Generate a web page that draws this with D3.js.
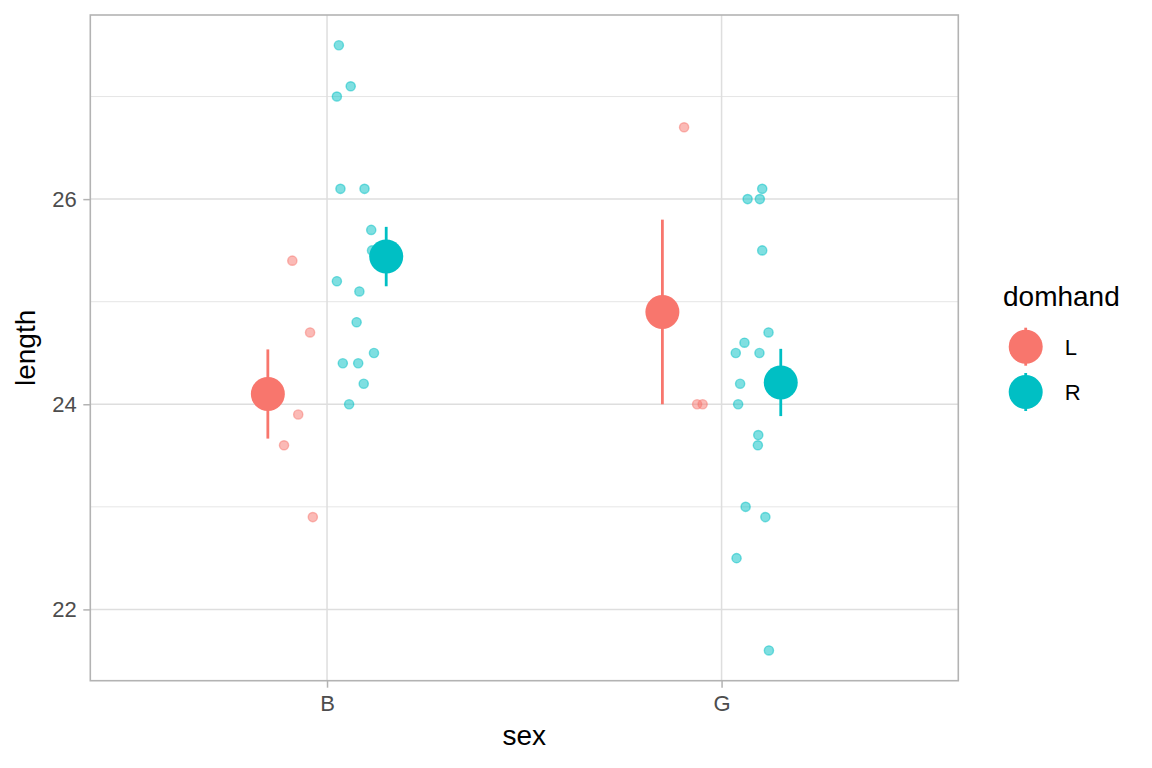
<!DOCTYPE html>
<html>
<head>
<meta charset="utf-8">
<script src="https://cdn.jsdelivr.net/npm/d3@7"></script>
<style>
  body { margin: 0; background: #fff; }
  svg { display: block; font-family: "Liberation Sans", Arial, sans-serif; }
</style>
</head>
<body>
<svg id="chart" width="1152" height="768"></svg>
<script>
// ---- data ----
const sexCats = ["B", "G"];
const handCats = ["L", "R"];
const handColors = ["#F8766D", "#00BFC4"];
const yTicks = [22, 24, 26];
const yMinor = [23, 25, 27];

const ptSex = [
  "B","B","B","B","B","B","B","B","B","B","B","B","B","B","B",
  "B","B","B","B","B",
  "G","G","G",
  "G","G","G","G","G","G","G","G","G","G","G","G","G","G","G","G"
];
const ptHand = [
  "R","R","R","R","R","R","R","R","R","R","R","R","R","R","R",
  "L","L","L","L","L",
  "L","L","L",
  "R","R","R","R","R","R","R","R","R","R","R","R","R","R","R","R"
];
const ptLength = [
  27.5, 27.1, 27.0, 26.1, 26.1, 25.7, 25.5, 25.2, 25.1, 24.8, 24.5, 24.4, 24.4, 24.2, 24.0,
  25.4, 24.7, 23.9, 23.6, 22.9,
  26.7, 24.0, 24.0,
  26.1, 26.0, 26.0, 25.5, 24.7, 24.6, 24.5, 24.5, 24.2, 24.0, 23.7, 23.6, 23.0, 22.9, 22.5, 21.6
];
const ptJitter = [
  0.030, 0.060, 0.025, 0.034, 0.095, 0.112, 0.114, 0.025, 0.082, 0.075, 0.119, 0.040, 0.079, 0.093, 0.056,
  -0.088, -0.043, -0.073, -0.109, -0.036,
  -0.095, -0.062, -0.048,
  0.103, 0.066, 0.097, 0.103, 0.119, 0.058, 0.036, 0.096, 0.047, 0.042, 0.093, 0.092, 0.061, 0.111, 0.038, 0.120
];
const dodgeOffset = [-0.15, 0.15]; // L, R

// ---- layout ----
const svg = d3.select("#chart");
const panel = { left: 90.3, right: 958.3, top: 15, bottom: 680.7 };

const x = d3.scalePoint().domain(sexCats).range([panel.left, panel.right]).padding(0.6);
const y = d3.scaleLinear().domain([21.305, 27.795]).range([panel.bottom, panel.top]);
const color = d3.scaleOrdinal().domain(handCats).range(handColors);

const points = ptLength.map((v, i) => ({ sex: ptSex[i], hand: ptHand[i], len: v, jit: ptJitter[i] }));

// summary: mean ± standard error
const summary = [];
sexCats.forEach(s => handCats.forEach(h => {
  const vals = points.filter(p => p.sex === s && p.hand === h).map(p => p.len);
  const m = d3.mean(vals);
  const se = d3.deviation(vals) / Math.sqrt(vals.length);
  summary.push({ sex: s, hand: h, mean: m, lo: m - se, hi: m + se });
}));

// ---- grid ----
const grid = svg.append("g");
grid.selectAll(".minor").data(yMinor).join("line")
  .attr("x1", panel.left).attr("x2", panel.right)
  .attr("y1", d => y(d)).attr("y2", d => y(d))
  .attr("stroke", "#dedede").attr("stroke-width", 0.75);
grid.selectAll(".majory").data(yTicks).join("line")
  .attr("x1", panel.left).attr("x2", panel.right)
  .attr("y1", d => y(d)).attr("y2", d => y(d))
  .attr("stroke", "#dedede").attr("stroke-width", 1.5);
grid.selectAll(".majorx").data(sexCats).join("line")
  .attr("x1", d => x(d)).attr("x2", d => x(d))
  .attr("y1", panel.top).attr("y2", panel.bottom)
  .attr("stroke", "#dedede").attr("stroke-width", 1.5);

// ---- jittered points ----
svg.append("g").selectAll("circle").data(points).join("circle")
  .attr("cx", d => x(d.sex) + d.jit * x.step())
  .attr("cy", d => y(d.len))
  .attr("r", 4.6)
  .attr("fill", d => color(d.hand)).attr("fill-opacity", 0.5)
  .attr("stroke", d => color(d.hand)).attr("stroke-opacity", 0.5).attr("stroke-width", 1.4);

// ---- summary pointranges ----
const sg = svg.append("g");
const sx = d => x(d.sex) + dodgeOffset[handCats.indexOf(d.hand)] * x.step();
sg.selectAll("line").data(summary).join("line")
  .attr("x1", sx).attr("x2", sx)
  .attr("y1", d => y(d.lo)).attr("y2", d => y(d.hi))
  .attr("stroke", d => color(d.hand)).attr("stroke-width", 2.8);
sg.selectAll("circle").data(summary).join("circle")
  .attr("cx", sx).attr("cy", d => y(d.mean)).attr("r", 17)
  .attr("fill", d => color(d.hand));

// ---- panel border ----
svg.append("rect")
  .attr("x", panel.left).attr("y", panel.top)
  .attr("width", panel.right - panel.left).attr("height", panel.bottom - panel.top)
  .attr("fill", "none").attr("stroke", "#b3b3b3").attr("stroke-width", 1.6);

// ---- axes ----
const yAxis = svg.append("g").attr("transform", `translate(${panel.left},0)`)
  .call(d3.axisLeft(y).tickValues(yTicks).tickSize(7).tickPadding(6.5).tickFormat(d3.format("d")));
yAxis.select(".domain").remove();
yAxis.selectAll(".tick line").attr("stroke", "#b3b3b3").attr("stroke-width", 1.5);
yAxis.selectAll(".tick text").attr("fill", "#4d4d4d").attr("font-size", 22).attr("dy", "0.34em")
  .attr("font-family", "Liberation Sans, Arial, sans-serif");

const xAxis = svg.append("g").attr("transform", `translate(0,${panel.bottom})`)
  .call(d3.axisBottom(x).tickSize(7).tickPadding(8));
xAxis.select(".domain").remove();
xAxis.selectAll(".tick line").attr("stroke", "#b3b3b3").attr("stroke-width", 1.5);
xAxis.selectAll(".tick text").attr("fill", "#4d4d4d").attr("font-size", 22).attr("dy", "0.71em")
  .attr("font-family", "Liberation Sans, Arial, sans-serif");

// axis titles
svg.append("text").attr("x", (panel.left + panel.right) / 2).attr("y", 745)
  .attr("text-anchor", "middle").attr("font-size", 28).attr("fill", "#000").text("sex");
svg.append("text").attr("transform", `translate(35,${(panel.top + panel.bottom) / 2}) rotate(-90)`)
  .attr("text-anchor", "middle").attr("font-size", 28).attr("fill", "#000").text("length");

// ---- legend ----
const lg = svg.append("g");
lg.append("text").attr("x", 1003).attr("y", 306).attr("font-size", 28).attr("fill", "#000").text("domhand");
const keyY = [346.7, 392];
const keys = lg.selectAll(".key").data(handCats).join("g")
  .attr("transform", (d, i) => `translate(1025.7,${keyY[i]})`);
keys.append("line").attr("x1", 0).attr("x2", 0).attr("y1", -19).attr("y2", 19)
  .attr("stroke", d => color(d)).attr("stroke-width", 2.8);
keys.append("circle").attr("r", 17).attr("fill", d => color(d));
keys.append("text").attr("x", 39).attr("dy", "0.36em").attr("font-size", 22).attr("fill", "#000").text(d => d);
</script>
</body>
</html>
